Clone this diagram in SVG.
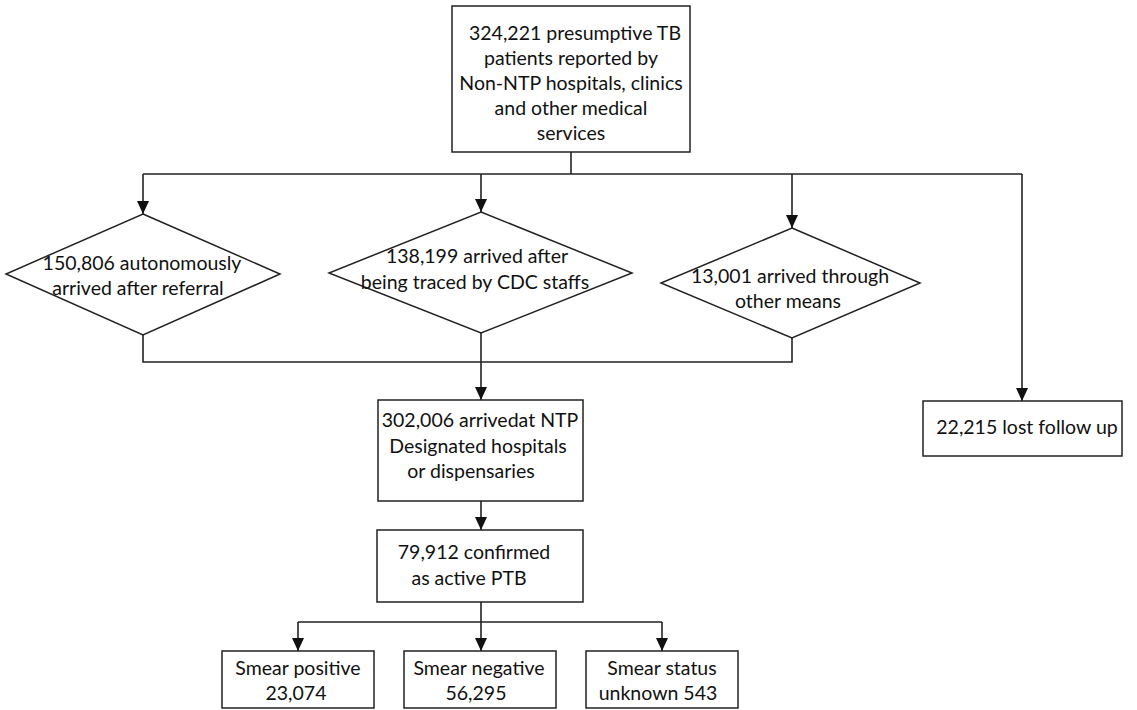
<svg xmlns="http://www.w3.org/2000/svg" width="1137" height="710" viewBox="0 0 1137 710">
<defs>
<marker id="arrow" markerUnits="userSpaceOnUse" markerWidth="13" markerHeight="12" refX="13" refY="6" orient="auto">
<path d="M0,0 L13,6 L0,12 z" fill="#111"/>
</marker>
<style>
.box{fill:#fff;stroke:#222;stroke-width:1.5}
.conn{fill:none;stroke:#222;stroke-width:1.6}
text{font-family:Lato,"Liberation Sans",sans-serif;font-size:19.5px;fill:#111;text-anchor:middle}
</style>
</defs>
<rect width="1137" height="710" fill="#fff"/>
<g id="connectors">
<path class="conn" d="M571,152 V174"/>
<path class="conn" d="M143,174 H1022"/>
<path class="conn" d="M143,174 V214" marker-end="url(#arrow)"/>
<path class="conn" d="M481,174 V212" marker-end="url(#arrow)"/>
<path class="conn" d="M792,174 V228" marker-end="url(#arrow)"/>
<path class="conn" d="M1022,174 V401" marker-end="url(#arrow)"/>
<path class="conn" d="M143,335 V362 H792 V338"/>
<path class="conn" d="M481,333 V400" marker-end="url(#arrow)"/>
<path class="conn" d="M481,501 V530" marker-end="url(#arrow)"/>
<path class="conn" d="M481,602 V622"/>
<path class="conn" d="M298,622 H662"/>
<path class="conn" d="M298,622 V651" marker-end="url(#arrow)"/>
<path class="conn" d="M481,622 V651" marker-end="url(#arrow)"/>
<path class="conn" d="M662,622 V651" marker-end="url(#arrow)"/>
</g>
<g id="n-reported">
<rect class="box" x="452" y="6" width="238" height="146"/>
<text x="575" y="40">324,221 presumptive TB</text>
<text x="571" y="65">patients reported by</text>
<text x="571" y="90">Non-NTP hospitals, clinics</text>
<text x="571" y="115">and other medical</text>
<text x="571" y="140">services</text>
</g>
<g id="n-autonomous">
<polygon class="box" points="143,214 280,274 143,335 6,274"/>
<text x="142" y="270">150,806 autonomously</text>
<text x="138" y="295">arrived after referral</text>
</g>
<g id="n-traced">
<polygon class="box" points="481,212 632,273 481,333 329,273"/>
<text x="477" y="263">138,199 arrived after</text>
<text x="475" y="289">being traced by CDC staffs</text>
</g>
<g id="n-other">
<polygon class="box" points="792,228 920,283 792,338 661,283"/>
<text x="790" y="283">13,001 arrived through</text>
<text x="788" y="308">other means</text>
</g>
<g id="n-lost">
<rect class="box" x="923" y="401" width="199" height="55"/>
<text x="1027" y="434">22,215 lost follow up</text>
</g>
<g id="n-arrived">
<rect class="box" x="378" y="400" width="205" height="101"/>
<text x="480" y="427">302,006 arrivedat NTP</text>
<text x="478" y="453">Designated hospitals</text>
<text x="471" y="478">or dispensaries</text>
</g>
<g id="n-confirmed">
<rect class="box" x="377" y="530" width="206" height="72"/>
<text x="474" y="559">79,912 confirmed</text>
<text x="469" y="585">as active PTB</text>
</g>
<g id="n-positive">
<rect class="box" x="222" y="651" width="152" height="57"/>
<text x="298" y="675">Smear positive</text>
<text x="296" y="700">23,074</text>
</g>
<g id="n-negative">
<rect class="box" x="404" y="651" width="152" height="57"/>
<text x="479" y="675">Smear negative</text>
<text x="476" y="700">56,295</text>
</g>
<g id="n-unknown">
<rect class="box" x="586" y="651" width="152" height="57"/>
<text x="662" y="675">Smear status</text>
<text x="658" y="700">unknown 543</text>
</g>
</svg>
